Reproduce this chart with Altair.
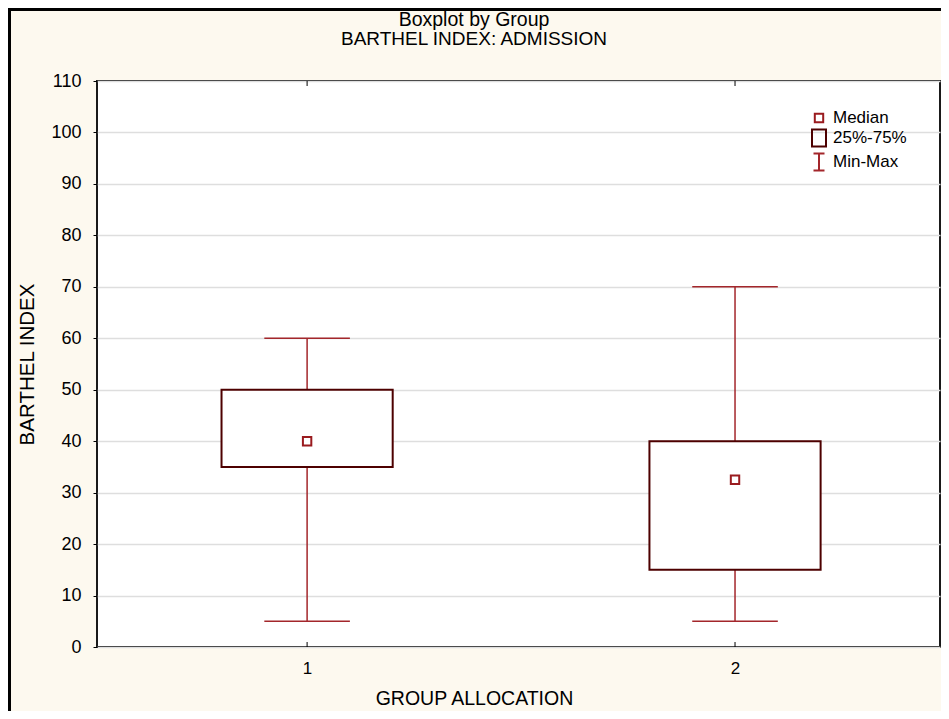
import altair as alt
import pandas as pd

# ---- data ----
groups = [1, 2]
mins = [5, 5]
q1s = [35, 15]
medians = [40, 32.5]
q3s = [50, 40]
maxs = [60, 70]
y_ticks = list(range(0, 111, 10))
x_ticks = [1, 2]
legend_items = ["Median", "25%-75%", "Min-Max"]
title_lines = ["Boxplot by Group", "BARTHEL INDEX: ADMISSION"]

FONT = "Liberation Sans"
W, H = 843, 566
PAD = {"left": 89, "top": 73, "right": 1, "bottom": 64}

MED_COL = "#9a1b1f"
BOX_COL = "#4d0000"
WHI_COL = "#a3262b"

df = pd.DataFrame({
    "g": groups, "mn": mins, "q1": q1s, "med": medians,
    "q3": q3s, "mx": maxs, "item": ["Median"] * len(groups),
})

xs = alt.Scale(domain=[0.509, 2.479], nice=False, zero=False)
ys = alt.Scale(domain=[0, 110], nice=False, zero=False)

x_axis = alt.Axis(values=x_ticks, title="GROUP ALLOCATION", grid=False, ticks=False,
                  domain=False, labelFontSize=17, labelFont=FONT, labelColor="black",
                  labelPadding=13, format="d", titleFontSize=19.5, titleFont=FONT,
                  titleFontWeight="normal", titleColor="black", titleX=377, titleY=51,
                  titleBaseline="middle", titleAnchor="middle")
y_axis = alt.Axis(values=y_ticks, title="BARTHEL INDEX", grid=True, gridColor="#dedede",
                  gridWidth=1.5, ticks=True, tickSize=4, tickColor="black", tickWidth=1,
                  domain=False, labelFontSize=18, labelFont=FONT, labelColor="black",
                  labelPadding=12, titleFontSize=20.5, titleFont=FONT, titleFontWeight="normal",
                  titleColor="black", titleX=-70, titleY=H / 2, titleBaseline="middle",
                  titleAngle=-90, titleAnchor="middle")

base = alt.Chart(df)

# axes carrier (gridlines, labels)
axes = base.mark_point(opacity=0).encode(
    x=alt.X("g:Q", scale=xs, axis=x_axis),
    y=alt.Y("med:Q", scale=ys, axis=y_axis),
)

whisker = base.mark_rule(color=WHI_COL, strokeWidth=1.5).encode(
    x=alt.X("g:Q", scale=xs), y=alt.Y("mn:Q", scale=ys), y2="mx:Q")

caps_lo = base.transform_calculate(lo="datum.g - 0.1", hi="datum.g + 0.1").mark_rule(
    color=WHI_COL, strokeWidth=1.5).encode(
    x=alt.X("lo:Q", scale=xs), x2="hi:Q", y=alt.Y("mn:Q", scale=ys))
caps_hi = base.transform_calculate(lo="datum.g - 0.1", hi="datum.g + 0.1").mark_rule(
    color=WHI_COL, strokeWidth=1.5).encode(
    x=alt.X("lo:Q", scale=xs), x2="hi:Q", y=alt.Y("mx:Q", scale=ys))

box = base.transform_calculate(lo="datum.g - 0.2", hi="datum.g + 0.2").mark_rect(
    fill="white", stroke=BOX_COL, strokeWidth=2).encode(
    x=alt.X("lo:Q", scale=xs), x2="hi:Q", y=alt.Y("q1:Q", scale=ys), y2="q3:Q")

p_med = "M-0.42,-0.42H0.42V0.42H-0.42Z"
p_box = "M-0.7,-0.85H0.7V0.85H-0.7Z"
p_mm = "M-0.55,-0.85H0.55M0,-0.85V0.85M-0.55,0.85H0.55"

leg = alt.Legend(title=None, orient="none", legendX=711, legendY=26, symbolSize=400,
                 labelFontSize=17, labelFont=FONT, labelColor="black", labelOffset=3,
                 rowPadding=-3.5, symbolStrokeWidth=2, padding=0)

median = base.mark_point(filled=False, strokeWidth=2, size=400, opacity=1).encode(
    x=alt.X("g:Q", scale=xs),
    y=alt.Y("med:Q", scale=ys),
    shape=alt.Shape("item:N", scale=alt.Scale(domain=legend_items, range=[p_med, p_box, p_mm]), legend=leg),
    color=alt.Color("item:N", scale=alt.Scale(domain=legend_items, range=[MED_COL, BOX_COL, WHI_COL]), legend=leg),
)

# inward category ticks on bottom and top frame
tick_bot = base.mark_rule(color="black", strokeWidth=1).encode(
    x=alt.X("g:Q", scale=xs), y=alt.value(H), y2=alt.value(H - 5))
tick_top = base.mark_rule(color="black", strokeWidth=1).encode(
    x=alt.X("g:Q", scale=xs), y=alt.value(0), y2=alt.value(5))

# outer frame of the figure (left and top edges)
frame_left = base.mark_rule(color="black", strokeWidth=3).encode(
    x=alt.value(-PAD["left"] + 1.5), y=alt.value(-PAD["top"]), y2=alt.value(H + PAD["bottom"]))
frame_top = base.mark_rule(color="black", strokeWidth=3).encode(
    x=alt.value(-PAD["left"]), x2=alt.value(W + PAD["right"]), y=alt.value(-PAD["top"] + 1.5))

# two-line chart title drawn as text
title1 = alt.Chart(pd.DataFrame({"t": [title_lines[0]]})).mark_text(
    font=FONT, fontSize=19.5, color="black", baseline="middle", align="center").encode(
    text="t:N", x=alt.value(377), y=alt.value(-61))
title2 = alt.Chart(pd.DataFrame({"t": [title_lines[1]]})).mark_text(
    font=FONT, fontSize=19, color="black", baseline="middle", align="center").encode(
    text="t:N", x=alt.value(377), y=alt.value(-42))

chart = alt.layer(
    axes, whisker, caps_lo, caps_hi, box, median, tick_bot, tick_top,
    frame_left, frame_top, title1, title2
).properties(
    width=W, height=H,
    autosize=alt.AutoSizeParams(type="none"),
    padding=PAD,
).configure(
    background="#fdf9ef",
).configure_view(
    fill="white", stroke="#1a1a1a", strokeWidth=2,
)

chart.save("out.html", embed_options={"renderer": "svg", "actions": False})
